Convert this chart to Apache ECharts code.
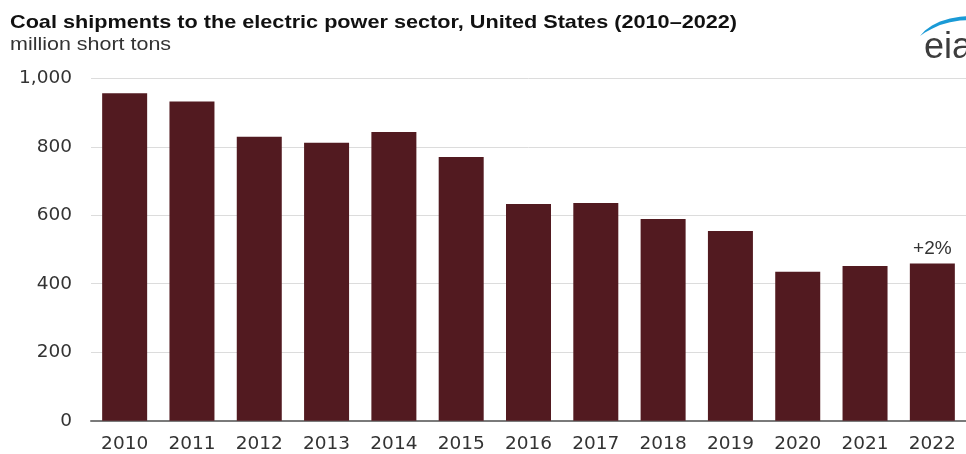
<!DOCTYPE html>
<html>
<head>
<meta charset="utf-8">
<script src="https://cdn.jsdelivr.net/npm/echarts@6/dist/echarts.min.js"></script>
<style>html,body{margin:0;padding:0;background:#fff;}#c{width:966px;height:454px;}</style>
</head>
<body>
<div id="c"></div>
<script>
const categories = ['2010','2011','2012','2013','2014','2015','2016','2017','2018','2019','2020','2021','2022'];
const shipments = [956, 932, 829, 812, 843, 770, 633, 636, 589, 554, 435, 452, 459];
const yTicks = [0, 200, 400, 600, 800, 1000];
const annotation = '+2%';
const titleText = 'Coal shipments to the electric power sector, United States (2010\u20132022)';
const subtitleText = 'million short tons';

const chart = echarts.init(document.getElementById('c'), null, {renderer: 'canvas'});
const font = 'Liberation Sans, Arial, sans-serif';
const labelFont = 'DejaVu Sans, sans-serif';
chart.setOption({
  animation: false,
  backgroundColor: '#fff',
  graphic: [
    {type: 'text', x: 10, y: 13, scaleX: 1.14, style: {text: titleText, x: 0, y: 0,
      font: 'bold 19px Liberation Sans', fill: '#111'}},
    {type: 'text', x: 10, y: 35, scaleX: 1.13, style: {text: subtitleText, x: 0, y: 0,
      font: '19px Liberation Sans', fill: '#333'}},
    {type: 'text', x: 924, y: 30, style: {text: 'eia', x: 0, y: 0,
      font: '36px Liberation Sans', fill: '#3d3d3d'}},
    {type: 'polygon', shape: {points: [[920,36],[925,30.5],[932,25.5],[940,21.5],[950,18.5],[960,16.8],[968,16],
      [968,20],[960,20.6],[950,22.2],[940,25],[932,28.8],[925,32.6]]}, style: {fill: '#1a9ad6'}}
  ],
  grid: {left: 91, width: 884, top: 78.3, bottom: 33.3, containLabel: false},
  xAxis: {
    type: 'category', data: categories,
    axisLine: {show: true, lineStyle: {color: '#7a7a7a', width: 2}},
    axisTick: {show: false},
    axisLabel: {fontFamily: labelFont, fontSize: 18.5, color: '#333', margin: 14}
  },
  yAxis: {
    type: 'value', min: 0, max: 1000, interval: 200,
    axisLine: {show: false}, axisTick: {show: false},
    splitLine: {lineStyle: {color: '#dcdcdc', width: 1}},
    axisLabel: {fontFamily: labelFont, fontSize: 18.5, color: '#333', margin: 19, padding: [0, 0, 5, 0],
      formatter: v => yTicks.includes(v) ? v.toLocaleString('en-US') : ''}
  },
  series: [{
    type: 'bar',
    data: shipments.map((v, i) => i === shipments.length - 1
      ? {value: v, label: {show: true, position: 'top', formatter: annotation, fontFamily: font, fontSize: 19, color: '#333', distance: 5}}
      : v),
    barWidth: 45,
    itemStyle: {color: '#521a20'}
  }]
});
</script>
</body>
</html>
